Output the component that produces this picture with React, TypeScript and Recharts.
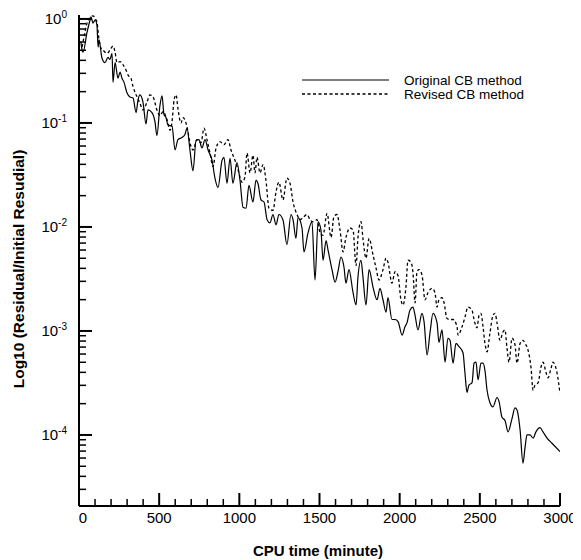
import React from 'react';
import { LineChart, Line, XAxis, YAxis, Legend, ReferenceLine } from 'recharts';

// [CPU time (minute), log10(residual / initial residual)]
const originalCB: [number, number][] = [
  [12, -0.22], [19, -0.3], [25, -0.32], [50, -0.13], [69, -0.01], [75, 0.02], [87, -0.04], [100, -0.01],
  [112, -0.06], [119, -0.27], [125, -0.2], [143, -0.375], [162, -0.42], [181, -0.37], [193, -0.39], [206, -0.33],
  [212, -0.61], [225, -0.42], [243, -0.57], [256, -0.51], [268, -0.57], [281, -0.61], [299, -0.71], [318, -0.75],
  [337, -0.76], [356, -0.9], [368, -0.78], [380, -0.73], [399, -0.8], [418, -1.01], [430, -0.875], [455, -0.9],
  [474, -0.99], [486, -1.12], [505, -0.83], [518, -0.74], [530, -0.92], [543, -0.95], [555, -1.02], [580, -1.03],
  [599, -1.26], [617, -1.16], [642, -1.14], [661, -1.11], [674, -1.05], [692, -1.26], [711, -1.46], [730, -1.17],
  [748, -1.16], [767, -1.24], [786, -1.16], [805, -1.26], [830, -1.36], [848, -1.53], [867, -1.62], [892, -1.36],
  [904, -1.33], [923, -1.58], [942, -1.34], [960, -1.58], [985, -1.38], [1004, -1.55], [1023, -1.81], [1042, -1.82],
  [1060, -1.6], [1085, -1.76], [1104, -1.55], [1116, -1.58], [1135, -1.74], [1154, -1.76], [1173, -1.93], [1191, -1.96],
  [1210, -1.88], [1229, -1.98], [1247, -1.88], [1272, -1.93], [1297, -2.17], [1322, -1.88], [1335, -1.93], [1353, -2.11],
  [1366, -1.91], [1391, -2.01], [1403, -2.24], [1428, -2.06], [1453, -1.95], [1472, -2.51], [1491, -1.95], [1509, -2.03],
  [1522, -2.32], [1541, -2.13], [1553, -2.22], [1578, -2.41], [1597, -2.53], [1615, -2.43], [1634, -2.29], [1653, -2.39],
  [1665, -2.54], [1684, -2.41], [1709, -2.63], [1728, -2.75], [1740, -2.48], [1759, -2.32], [1771, -2.48], [1790, -2.75],
  [1809, -2.41], [1834, -2.58], [1859, -2.7], [1877, -2.59], [1896, -2.7], [1915, -2.82], [1927, -2.68], [1952, -2.89],
  [1971, -2.89], [1990, -2.91], [2015, -3.04], [2033, -2.96], [2046, -2.92], [2064, -2.8], [2083, -2.77], [2096, -2.85],
  [2114, -2.99], [2139, -2.83], [2152, -2.91], [2171, -3.23], [2189, -3.02], [2208, -2.83], [2233, -2.92], [2245, -3.11],
  [2264, -2.99], [2283, -3.3], [2301, -3.07], [2314, -3.09], [2333, -3.31], [2351, -3.12], [2370, -3.15], [2395, -3.21],
  [2407, -3.4], [2420, -3.59], [2432, -3.52], [2451, -3.5], [2464, -3.31], [2476, -3.3], [2489, -3.47], [2507, -3.31],
  [2520, -3.31], [2532, -3.38], [2545, -3.57], [2563, -3.69], [2582, -3.73], [2607, -3.64], [2620, -3.68], [2638, -3.83],
  [2657, -3.86], [2676, -3.97], [2701, -3.84], [2719, -3.74], [2732, -3.76], [2751, -3.95], [2769, -4.27], [2782, -4.12],
  [2794, -4.0], [2813, -4.0], [2832, -4.03], [2850, -3.97], [2875, -3.93], [2894, -3.97], [2919, -4.03], [2950, -4.08],
  [3000, -4.16],
];

const revisedCB: [number, number][] = [
  [19, -0.27], [37, -0.13], [50, -0.04], [69, 0.01], [87, 0.03], [106, -0.01], [112, -0.03], [125, -0.2],
  [137, -0.28], [150, -0.3], [175, -0.33], [193, -0.3], [212, -0.26], [225, -0.32], [237, -0.42], [256, -0.41],
  [274, -0.44], [293, -0.49], [306, -0.54], [324, -0.57], [337, -0.65], [362, -0.75], [380, -0.81], [399, -0.875],
  [424, -0.8], [443, -0.73], [462, -0.75], [486, -0.875], [505, -0.93], [524, -0.89], [549, -0.97], [568, -1.07],
  [580, -0.99], [593, -0.78], [605, -0.73], [617, -0.86], [636, -1.0], [649, -0.95], [674, -1.04], [692, -1.19],
  [711, -1.26], [736, -1.16], [761, -1.19], [780, -1.05], [798, -1.16], [817, -1.29], [836, -1.42], [855, -1.24],
  [879, -1.18], [904, -1.21], [929, -1.16], [948, -1.26], [973, -1.36], [992, -1.45], [1017, -1.57], [1035, -1.52],
  [1048, -1.29], [1067, -1.48], [1085, -1.31], [1098, -1.48], [1110, -1.33], [1129, -1.48], [1148, -1.4], [1166, -1.55],
  [1185, -1.82], [1210, -1.84], [1229, -1.66], [1247, -1.57], [1272, -1.74], [1297, -1.53], [1316, -1.58], [1335, -1.76],
  [1360, -1.88], [1378, -1.93], [1397, -1.91], [1422, -1.88], [1441, -1.93], [1459, -1.95], [1484, -1.93], [1503, -2.05],
  [1522, -2.08], [1547, -1.87], [1572, -2.1], [1590, -1.9], [1609, -1.88], [1628, -2.03], [1647, -2.24], [1665, -2.1],
  [1690, -2.01], [1709, -2.03], [1728, -2.37], [1740, -2.1], [1759, -1.95], [1771, -2.11], [1790, -2.3], [1809, -2.11],
  [1834, -2.27], [1852, -2.39], [1871, -2.51], [1896, -2.41], [1915, -2.3], [1927, -2.34], [1952, -2.54], [1971, -2.43],
  [1990, -2.47], [2008, -2.7], [2021, -2.75], [2039, -2.58], [2052, -2.32], [2071, -2.34], [2083, -2.44], [2096, -2.73],
  [2108, -2.43], [2121, -2.41], [2139, -2.46], [2158, -2.7], [2177, -2.63], [2202, -2.59], [2220, -2.63], [2233, -2.77],
  [2245, -2.7], [2264, -2.68], [2277, -2.73], [2295, -2.88], [2314, -2.89], [2333, -2.89], [2358, -2.96], [2364, -3.04],
  [2389, -2.96], [2407, -2.87], [2426, -2.77], [2451, -2.8], [2464, -2.89], [2482, -2.97], [2495, -2.85], [2507, -2.83],
  [2520, -2.96], [2532, -3.12], [2545, -3.2], [2563, -3.02], [2582, -2.85], [2595, -2.83], [2607, -2.92], [2626, -3.09],
  [2644, -3.01], [2657, -2.99], [2669, -3.16], [2682, -3.3], [2701, -3.07], [2719, -3.13], [2732, -3.31], [2751, -3.12],
  [2769, -3.09], [2782, -3.12], [2800, -3.18], [2819, -3.35], [2832, -3.57], [2844, -3.52], [2863, -3.5], [2881, -3.35],
  [2894, -3.3], [2913, -3.4], [2925, -3.45], [2944, -3.36], [2956, -3.3], [2969, -3.33], [2981, -3.4], [3000, -3.6],
];

const xMajorTicks = [0, 500, 1000, 1500, 2000, 2500, 3000];
const xMinorStep = 100;
const yMajorExponents = [0, -1, -2, -3, -4];
const yMinorMultipliers = [2, 3, 4, 5, 6, 7, 8, 9];
const seriesNames = ['Original CB method', 'Revised CB method'];

const X_DOMAIN: [number, number] = [0, 3000];
const Y_DOMAIN: [number, number] = [-4.683, 0.038];

const CHART_W = 573;
const CHART_H = 552;
const MARGIN = { top: 7, right: 21, left: 0, bottom: 0 };
const Y_AXIS_W = 71;
const X_AXIS_H = 54;
const PLOT_W = CHART_W - MARGIN.left - MARGIN.right - Y_AXIS_W;
const PLOT_H = CHART_H - MARGIN.top - MARGIN.bottom - X_AXIS_H;

const MAJOR_LEN = 13;
const MINOR_LEN = 7;
const xUnitsPerPx = (X_DOMAIN[1] - X_DOMAIN[0]) / PLOT_W;
const yUnitsPerPx = (Y_DOMAIN[1] - Y_DOMAIN[0]) / PLOT_H;

const FONT = '"Liberation Sans", Arial, Helvetica, sans-serif';

const originalData = originalCB.map(([x, y]) => ({ x, y }));
const revisedData = revisedCB.map(([x, y]) => ({ x, y }));

const xTicks: number[] = [];
for (let v = X_DOMAIN[0]; v <= X_DOMAIN[1]; v += xMinorStep) xTicks.push(v);

const yTicks: number[] = [];
[...yMajorExponents, -5].forEach((e) => {
  if (e >= Y_DOMAIN[0]) yTicks.push(e);
  yMinorMultipliers.forEach((m) => {
    const v = e + Math.log10(m);
    if (v >= Y_DOMAIN[0] && v <= Y_DOMAIN[1]) yTicks.push(v);
  });
});

const isYMajor = (v: number) => Math.abs(v - Math.round(v)) < 1e-9;

const XTick = (props: any) => {
  const { x, y, payload } = props;
  const v = payload.value;
  if (!xMajorTicks.includes(v)) return <g />;
  return (
    <text x={x + (v === 0 ? 4 : 0)} y={y + 17} textAnchor="middle" fontSize={15} fontFamily={FONT} fill="#000">
      {v}
    </text>
  );
};

const YTick = (props: any) => {
  const { x, y, payload } = props;
  const v = payload.value;
  if (!isYMajor(v)) return <g />;
  return (
    <text x={x - 12} y={y + 5.5} textAnchor="end" fontSize={15} fontFamily={FONT} fill="#000">
      <tspan>10</tspan>
      <tspan dy={-6} fontSize={10}>{String(Math.round(v))}</tspan>
    </text>
  );
};

const LegendContent = () => (
  <svg width={270} height={48} style={{ display: 'block' }}>
    <line x1={20} x2={107} y1={20} y2={20} stroke="#000" strokeWidth={1.2} />
    <text x={122} y={24.5} fontSize={13.5} fontFamily={FONT} fill="#000">{seriesNames[0]}</text>
    <line x1={20} x2={107} y1={34} y2={34} stroke="#000" strokeWidth={1.3} strokeDasharray="3 2.5" />
    <text x={122} y={38.5} fontSize={13.5} fontFamily={FONT} fill="#000">{seriesNames[1]}</text>
  </svg>
);

export default function App() {
  return (
    <div style={{ width: CHART_W, height: CHART_H, background: '#fff' }}>
      <LineChart width={CHART_W} height={CHART_H} margin={MARGIN}>
        <XAxis
          type="number"
          dataKey="x"
          domain={X_DOMAIN}
          ticks={xTicks}
          interval={0}
          allowDataOverflow
          tickLine={false}
          tickSize={0}
          tickMargin={0}
          height={X_AXIS_H}
          axisLine={{ stroke: '#000', strokeWidth: 2 }}
          tick={<XTick />}
        />
        <YAxis
          type="number"
          dataKey="y"
          domain={Y_DOMAIN}
          ticks={yTicks}
          interval={0}
          allowDataOverflow
          tickLine={false}
          tickSize={0}
          tickMargin={0}
          width={Y_AXIS_W}
          axisLine={{ stroke: '#000', strokeWidth: 2 }}
          tick={<YTick />}
        />
        <Legend
          layout="vertical"
          align="center"
          verticalAlign="middle"
          wrapperStyle={{ left: 274, top: 52, width: 270, height: 48 }}
          content={<LegendContent />}
        />
        <Line
          data={originalData}
          dataKey="y"
          name={seriesNames[0]}
          type="monotone"
          stroke="#000"
          strokeWidth={1.2}
          dot={false}
          isAnimationActive={false}
        />
        <Line
          data={revisedData}
          dataKey="y"
          name={seriesNames[1]}
          type="monotone"
          stroke="#000"
          strokeWidth={1.3}
          strokeDasharray="3 2.5"
          dot={false}
          isAnimationActive={false}
        />
        {xTicks.map((v) => {
          const major = xMajorTicks.includes(v);
          const len = (major ? MAJOR_LEN : MINOR_LEN) * yUnitsPerPx;
          return (
            <ReferenceLine
              key={`xt${v}`}
              segment={[{ x: v, y: Y_DOMAIN[0] }, { x: v, y: Y_DOMAIN[0] + len }]}
              stroke="#000"
              strokeWidth={major ? 2 : 1.5}
              ifOverflow="visible"
            />
          );
        })}
        {yTicks.map((v, i) => {
          const major = isYMajor(v);
          const len = (major ? MAJOR_LEN : MINOR_LEN) * xUnitsPerPx;
          return (
            <ReferenceLine
              key={`yt${i}`}
              segment={[{ x: X_DOMAIN[0], y: v }, { x: X_DOMAIN[0] + len, y: v }]}
              stroke="#000"
              strokeWidth={major ? 2 : 1.5}
              ifOverflow="visible"
            />
          );
        })}
        <text x={310} y={548} textAnchor="middle" fontSize={15} fontWeight="bold" fontFamily={FONT} fill="#000">
          CPU time (minute)
        </text>
        <text
          x={15.5}
          y={261}
          textAnchor="middle"
          fontSize={15.5}
          fontWeight="bold"
          fontFamily={FONT}
          fill="#000"
          transform="rotate(-90 15.5 261)"
        >
          Log10 (Residual/Initial Resudial)
        </text>
      </LineChart>
    </div>
  );
}
